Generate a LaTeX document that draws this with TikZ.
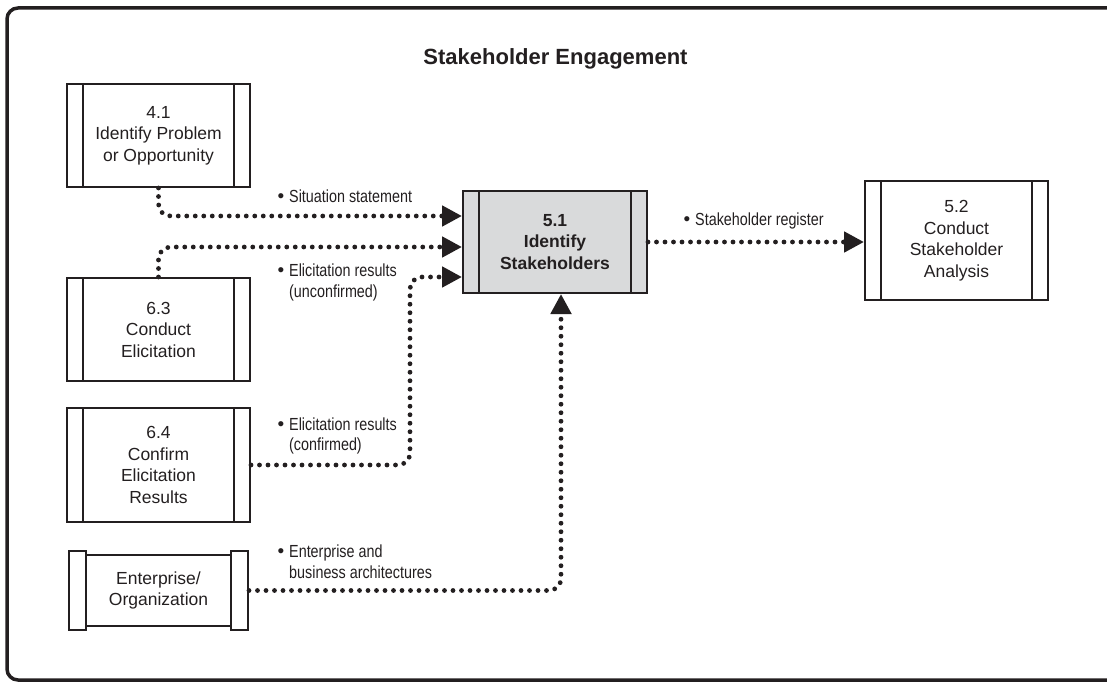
\documentclass[tikz,border=0pt]{standalone}
\usepackage{fontspec}
\setmainfont{Liberation Sans}
\newfontfamily\condfont[FakeStretch=0.82]{Liberation Sans}
\usetikzlibrary{arrows.meta}
\definecolor{ink}{HTML}{231F20}
\definecolor{boxgray}{HTML}{D9DADB}
\newcommand{\lblbullet}{\llap{{\normalfont\fontsize{19}{19}\selectfont•}\hspace{5pt}}}
\begin{document}
\begin{tikzpicture}[x=1pt,y=-1pt,
  proc/.style={draw=ink, line width=2pt, minimum width=183pt, inner sep=0pt, align=center,
    text=ink, font=\fontsize{17.5}{21.5}\selectfont},
  tab/.style={draw=ink, fill=white, line width=2pt, minimum width=17pt, minimum height=79pt, inner sep=0pt},
  flow/.style={draw=ink, line width=4.8pt, line cap=round, dash pattern=on 0pt off 8.5pt,
    rounded corners=12pt, -{Triangle[length=20pt,width=20pt]}},
  lbl/.style={anchor=west, align=left, inner sep=0pt, text=ink,
    font=\condfont\fontsize{17.5}{20.5}\selectfont}
]
\useasboundingbox (0,0) rectangle (1107,682);
% outer frame
\draw[ink, line width=3.5pt, rounded corners=11pt] (7,8) rectangle (1120,680);

% title
\node[text=ink, font=\bfseries\fontsize{22}{24}\selectfont] (title) at (555.5,59) {Stakeholder Engagement};

% process boxes
\node[proc, minimum height=103pt] (b41) at (158.5,135.5) {4.1\\Identify Problem\\or Opportunity};
\node[proc, minimum height=103pt] (b63) at (158.5,329.5) {6.3\\Conduct\\Elicitation};
\node[proc, minimum height=114pt] (b64) at (158.5,465) {6.4\\Confirm\\Elicitation\\Results};
\node[proc, fill=boxgray, minimum width=184pt, minimum height=102pt, font=\bfseries\fontsize{17.5}{21.5}\selectfont] (b51) at (555,242) {5.1\\Identify\\Stakeholders};
\node[proc, minimum height=119pt] (b52) at (956.5,240.5) {5.2\\Conduct\\Stakeholder\\Analysis};
\foreach \n in {b41,b63,b64,b51,b52} {
  \draw[ink, line width=2pt] ([xshift=17pt]\n.north west) -- ([xshift=17pt]\n.south west)
    ([xshift=-17pt]\n.north east) -- ([xshift=-17pt]\n.south east);
}

% enterprise box
\node[proc, minimum width=145pt, minimum height=71pt] (ent) at (158.5,590.5) {Enterprise/\\Organization};
\node[tab] (entL) at (77.5,590.5) {};
\node[tab] (entR) at (239.5,590.5) {};

% labels
\node[lbl] (l1) at (289,196) {\lblbullet Situation statement};
\node[lbl] (l2) at (289,282.5) {\lblbullet Elicitation results\\(unconfirmed)};
\node[lbl] (l3) at (289,436) {\lblbullet Elicitation results\\(confirmed)};
\node[lbl] (l4) at (289,561.5) {\lblbullet Enterprise and\\business architectures};
\node[lbl] (l5) at (695,221) {\lblbullet Stakeholder register};

% connectors
\coordinate (c64) at (410,465);
\draw[flow] (b41.south) |- ([yshift=26pt]b51.west);
\draw[flow] (b63.north) |- ([yshift=-5pt]b51.west);
\draw[flow] (b64.east) -- (c64) |- ([yshift=-35pt]b51.west);
\draw[flow] (entR.east) -| ([xshift=6pt]b51.south);
\draw[flow] (b51.east) -- (b52.west |- b51.east);
\end{tikzpicture}
\end{document}
